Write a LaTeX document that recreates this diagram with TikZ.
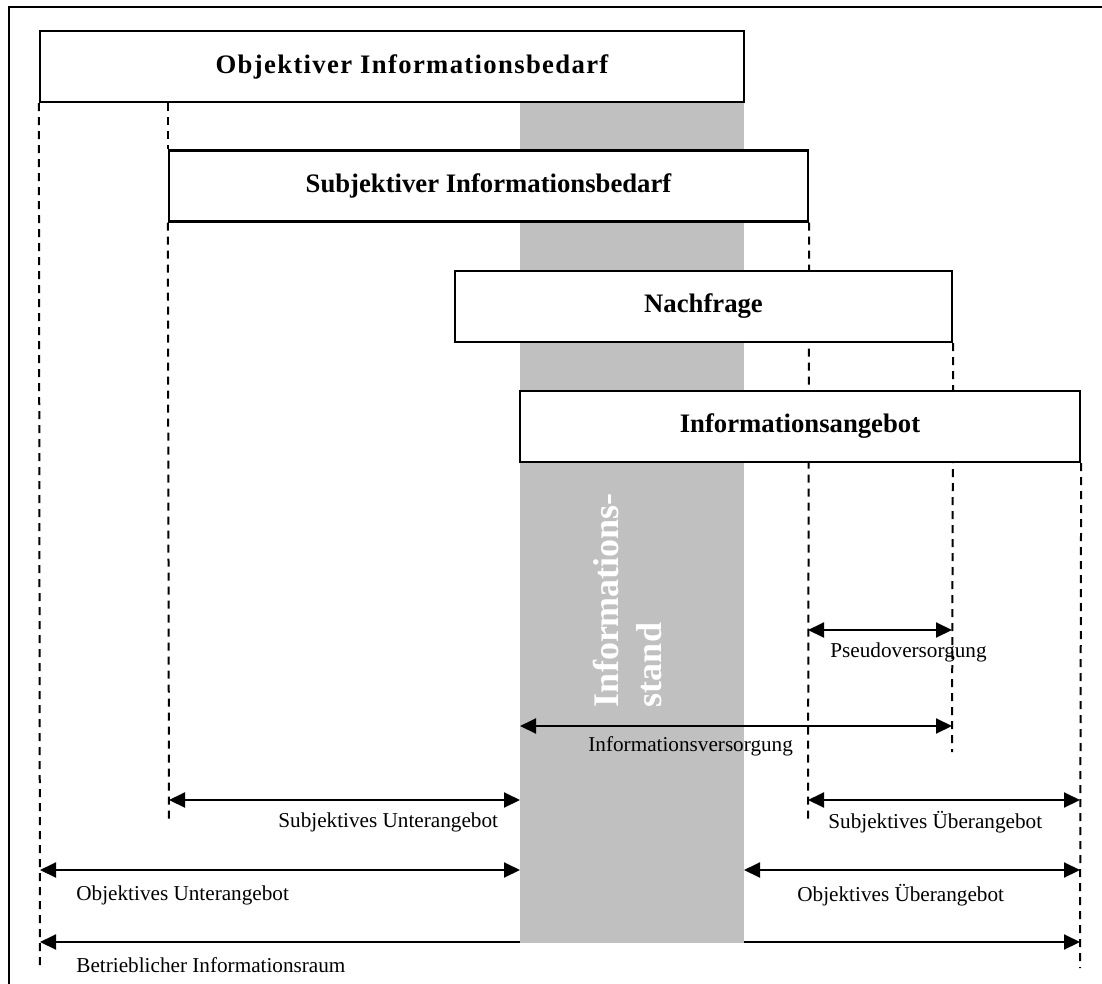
\documentclass[tikz,border=0pt]{standalone}
\usepackage{fontspec}
\setmainfont{Liberation Serif}
\newfontfamily\widefont[LetterSpace=5]{Liberation Serif}
\usetikzlibrary{arrows.meta}
\definecolor{standgray}{HTML}{C0C0C0}
\pgfdeclarelayer{background}
\pgfsetlayers{background,main}
\begin{document}
\begin{tikzpicture}[x=0.5pt,y=-0.5pt,
  box/.style={draw,line width=1.15pt,fill=white,inner sep=0pt,minimum height=35.5pt,
    font=\fontsize{13.35}{16}\selectfont\bfseries},
  guide/.style={line width=1pt,dash pattern=on 4pt off 3pt},
  span/.style={line width=1pt,{Triangle[length=8pt,width=7.5pt]}-{Triangle[length=8pt,width=7.5pt]}},
  lbl/.style={inner sep=0pt,anchor=base west,font=\fontsize{10.6}{12}\selectfont},
]
\useasboundingbox (0,0) rectangle (1102,984);

% outer frame
\draw[line width=1pt] (9,984) -- (9,7) -- (1102,7);

% the four levels
\node[box,minimum width=352pt] (obj) at (392,66.5)
  {\widefont\bfseries\hspace*{20pt}Objektiver Informationsbedarf};
\node[box,minimum width=319.5pt] (subj) at (488.5,186) {Subjektiver Informationsbedarf};
\node[box,minimum width=248.5pt] (nach) at (703.5,306.5) {Nachfrage};
\node[box,minimum width=280pt] (ang) at (800,426.5) {Informationsangebot};

% lower ends of the guide lines
\coordinate (e1) at (40,968);
\coordinate (e2) at (169,823);
\coordinate (e3) at (808,823);
\coordinate (e4) at (952,752);
\coordinate (e5) at (1080,968);

% end points of the spans
\coordinate (pa) at (808,630);  \coordinate (pb) at (952,630);
\coordinate (va) at (520,726);  \coordinate (vb) at (952,726);
\coordinate (sua) at (169,800); \coordinate (sub) at (520,800);
\coordinate (soa) at (808,800); \coordinate (sob) at (1080,800);
\coordinate (oua) at (40,870);  \coordinate (oub) at (520,870);
\coordinate (ooa) at (744,870); \coordinate (oob) at (1080,870);
\coordinate (ra) at (40,942);   \coordinate (rb) at (1080,942);

\begin{pgfonlayer}{background}
  % full-range span, partly hidden by the grey column
  \draw[span] (ra) -- (rb);
  % grey column of the Informationsstand
  \fill[standgray] (520,31) rectangle (744,943);
  % dashed guide lines, covered by the boxes
  \draw[guide] (obj.south west) -- (e1);
  \draw[guide] (obj.south -| subj.west) -- (subj.north west);
  \draw[guide] (subj.south west) -- (e2);
  \draw[guide] (subj.south east) -- (e3);
  \draw[guide] (nach.south east) -- (e4);
  \draw[guide] (ang.south east) -- (e5);
\end{pgfonlayer}

\node[rotate=90,text=white,inner sep=0pt,align=left,
  font=\fontsize{18}{21.5}\selectfont\bfseries] (stand) at (627,600) {Informations-\\stand};

% spans and their labels
\draw[span] (pa) -- (pb);
\node[lbl] (lp) at (830,657) {Pseudoversorgung};
\draw[span] (va) -- (vb);
\node[lbl] (lv) at (588,751) {Informationsversorgung};
\draw[span] (sua) -- (sub);
\node[lbl] (lsu) at (278,827) {Subjektives Unterangebot};
\draw[span] (soa) -- (sob);
\node[lbl] (lso) at (828,828) {Subjektives Überangebot};
\draw[span] (oua) -- (oub);
\node[lbl] (lou) at (76,900) {Objektives Unterangebot};
\draw[span] (ooa) -- (oob);
\node[lbl] (loo) at (797,901) {Objektives Überangebot};
\node[lbl] (lr) at (76,972) {Betrieblicher Informationsraum};
\end{tikzpicture}
\end{document}
